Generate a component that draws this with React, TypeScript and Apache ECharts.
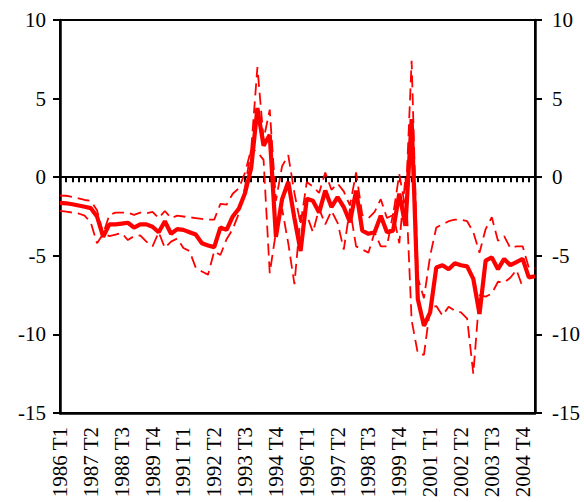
import { useEffect, useRef } from "react";
import * as echarts from "echarts";

// Quarterly periods, 1986 T1 .. 2005 T2
const years = [1986, 1987, 1988, 1989, 1990, 1991, 1992, 1993, 1994, 1995, 1996, 1997, 1998, 1999, 2000, 2001, 2002, 2003, 2004, 2005];
const quarterTags = ["T1", "T2", "T3", "T4"];
const lastPeriod = "2005 T2";

const periods: string[] = [];
outer: for (const y of years) {
  for (const q of quarterTags) {
    const p = `${y} ${q}`;
    periods.push(p);
    if (p === lastPeriod) break outer;
  }
}

// Central estimate (thick solid line)
const central = [
  -1.63, -1.66, -1.72, -1.8, -1.88, -1.97, -2.5, -3.8, -3.0, -3.0,
  -2.95, -2.9, -3.2, -3.0, -3.0, -3.15, -3.5, -2.8, -3.6, -3.3,
  -3.35, -3.5, -3.65, -4.2, -4.35, -4.45, -3.2, -3.35, -2.5, -2.0,
  -1.0, 0.6, 4.4, 2.0, 2.7, -3.8, -1.4, -0.3, -2.6, -4.7,
  -1.37, -1.5, -2.25, -0.85, -1.9, -1.27, -1.9, -2.87, -0.85, -3.4,
  -3.6, -3.5, -2.45, -3.5, -3.4, -1.05, -3.1, 3.7, -7.75, -9.45,
  -8.6, -5.74, -5.6, -5.85, -5.47, -5.6, -5.67, -6.47, -8.7, -5.3,
  -5.1, -5.85, -5.2, -5.6, -5.4, -5.2, -6.37, -6.3,
];

// Upper bound (dashed)
const upperBand = [
  -1.17, -1.18, -1.25, -1.35, -1.45, -1.5, -2.1, -3.6, -2.4, -2.25,
  -2.25, -2.25, -2.4, -2.25, -2.3, -2.2, -2.6, -2.15, -2.6, -2.45,
  -2.5, -2.55, -2.6, -2.65, -2.7, -2.7, -1.7, -1.75, -1.05, -0.7,
  0.3, 1.8, 7.0, 2.4, 4.3, -1.5, 0.7, 1.4, -1.0, -3.0,
  -0.3, -0.6, -1.0, 0.3, -0.8, -0.4, -0.9, -1.8, 0.3, -2.4,
  -2.6, -2.2, -1.4, -2.6, -2.4, 0.2, -2.0, 7.4, -6.4, -7.7,
  -5.0, -3.2, -3.0, -2.8, -2.7, -2.7, -2.8, -3.5, -4.8, -3.3,
  -2.55, -4.05, -3.75, -4.5, -4.4, -4.4, -5.75, -5.8,
];

// Lower bound (dashed), available through 2004 T4
const lowerBand = [
  -2.14, -2.19, -2.25, -2.31, -2.44, -2.9, -4.2, -3.6, -3.75, -3.65,
  -3.55, -4.0, -3.75, -3.7, -4.1, -4.4, -3.5, -4.5, -4.1, -3.9,
  -4.5, -4.7, -5.75, -6.0, -6.2, -4.7, -4.95, -3.95, -3.3, -2.3,
  -0.6, 1.8, 1.6, 1.1, -6.1, -3.5, -2.0, -4.2, -6.8, -2.44,
  -2.4, -3.5, -2.0, -3.0, -2.14, -2.9, -4.6, -2.0, -4.4, -4.6,
  -4.8, -3.5, -4.4, -4.4, -2.3, -4.2, 0.0, -9.1, -11.2, -11.3,
  -8.3, -8.2, -8.8, -8.24, -8.5, -8.6, -9.0, -12.5, -7.5, -7.6,
  -7.4, -6.65, -6.7, -6.4, -5.9, -7.0,
];

const FONT = "'Liberation Serif', serif";
const RED = "#ff0000";

export default function App() {
  const ref = useRef<HTMLDivElement>(null);

  useEffect(() => {
    if (!ref.current) return;
    const chart = echarts.init(ref.current, undefined, { renderer: "svg" });

    const yAxisBase = {
      type: "value" as const,
      min: -15,
      max: 10,
      interval: 5,
      splitLine: { show: false },
      axisLine: { show: true, lineStyle: { color: "#000", width: 2.5 } },
      axisTick: { show: true, length: 7, lineStyle: { color: "#000", width: 2 } },
      axisLabel: { color: "#000", fontFamily: FONT, fontSize: 21 },
    };

    chart.setOption({
      animation: false,
      backgroundColor: "#fff",
      grid: {
        left: 60,
        right: 49,
        top: 20,
        bottom: 89,
        outerBoundsMode: "none",
        containLabel: false,
        show: true,
        borderColor: "#000",
        borderWidth: 2,
        backgroundColor: "transparent",
      },
      xAxis: [
        {
          type: "category",
          data: periods,
          boundaryGap: false,
          position: "bottom",
          axisLine: { show: true, onZero: false, lineStyle: { color: "#000", width: 2.5 } },
          axisTick: { show: false },
          axisLabel: {
            interval: 4,
            rotate: 90,
            margin: 14,
            color: "#000",
            fontFamily: FONT,
            fontSize: 21,
          },
          splitLine: { show: false },
        },
        {
          type: "category",
          data: periods,
          boundaryGap: false,
          position: "bottom",
          axisLine: { show: true, onZero: true, lineStyle: { color: "#000", width: 2 } },
          axisTick: { show: true, interval: 0, length: 5, lineStyle: { color: "#000", width: 2 } },
          axisLabel: { show: false },
          splitLine: { show: false },
        },
      ],
      yAxis: [
        { ...yAxisBase, position: "left", axisLabel: { ...yAxisBase.axisLabel, margin: 14 } },
        { ...yAxisBase, position: "right", axisLabel: { ...yAxisBase.axisLabel, margin: 17 } },
      ],
      series: [
        {
          type: "line",
          data: upperBand,
          symbol: "none",
          lineStyle: { color: RED, width: 1.8, type: [12, 6] },
          z: 2,
        },
        {
          type: "line",
          data: lowerBand,
          symbol: "none",
          lineStyle: { color: RED, width: 1.8, type: [12, 6] },
          z: 2,
        },
        {
          type: "line",
          data: central,
          symbol: "none",
          lineStyle: { color: RED, width: 4.2 },
          z: 3,
        },
      ],
    });

    return () => chart.dispose();
  }, []);

  return (
    <div
      ref={ref}
      style={{ position: "absolute", left: 0, top: 0, width: 584, height: 502 }}
    />
  );
}
